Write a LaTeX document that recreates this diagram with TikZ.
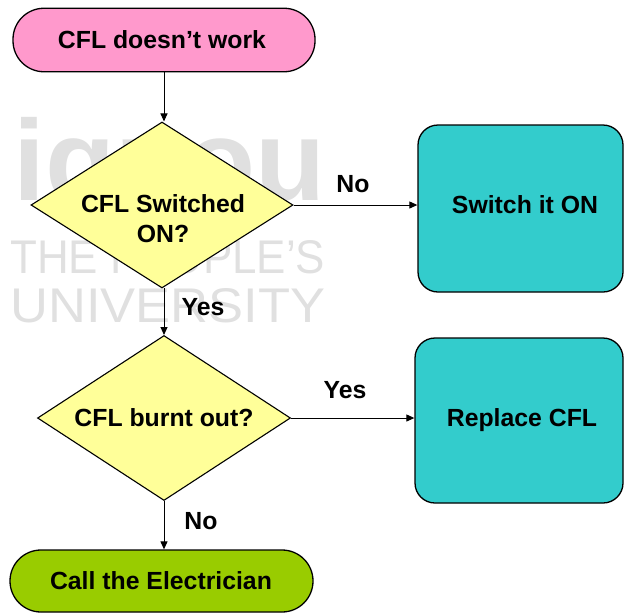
\documentclass[tikz,border=0pt]{standalone}
\usepackage{fontspec}
\setmainfont{Liberation Sans}
\usetikzlibrary{shapes.geometric,arrows.meta}
\definecolor{termpink}{RGB}{255,153,204}
\definecolor{termgreen}{RGB}{153,204,0}
\definecolor{decyellow}{RGB}{255,255,153}
\definecolor{actteal}{RGB}{51,204,204}
\definecolor{wmgray}{RGB}{224,224,224}
\begin{document}
\begin{tikzpicture}[x=1pt,y=-1pt,
  txt/.style={font=\bfseries\fontsize{24.8}{30}\selectfont, inner sep=0pt, anchor=base},
  wm/.style={font=\normalfont, text=wmgray, inner sep=0pt, anchor=base west},
  terminal/.style={rectangle, rounded corners=31pt, draw=black, line width=1.3pt, inner sep=0pt},
  decision/.style={diamond, draw=black, line width=1.1pt, fill=decyellow, inner sep=0pt},
  action/.style={rectangle, rounded corners=20pt, draw=black, line width=1.3pt, fill=actteal, inner sep=0pt},
  conn/.style={draw=black, line width=1pt, -{Triangle[length=8pt,width=7pt]}}
]
\useasboundingbox (0,0) rectangle (624,614);

% background logo lettering
\node[wm] (wmlogo) at (13,200) {\resizebox{312pt}{!}{\bfseries ignou}};
\node[wm] (wmline1) at (10,273) {\resizebox{315pt}{33pt}{THE PEOPLE’S}};
\node[wm] (wmline2) at (10,322) {\resizebox{315pt}{34pt}{UNIVERSITY}};

% shapes
\node[terminal, fill=termpink, minimum width=302pt, minimum height=63.5pt] (start) at (164,40) {};
\node[decision, minimum width=262pt, minimum height=166pt] (q1) at (162,205) {};
\node[action, minimum width=205pt, minimum height=167pt] (act1) at (520.5,208.5) {};
\node[decision, minimum width=253pt, minimum height=165pt] (q2) at (164,418) {};
\node[action, minimum width=208pt, minimum height=165pt] (act2) at (519,420.5) {};
\node[terminal, fill=termgreen, minimum width=303pt, minimum height=62pt] (stop) at (161.5,581) {};

% texts
\node[txt] (tstart) at (162,48) {CFL doesn’t work};
\node[txt] (tq1a) at (163,212) {CFL Switched};
\node[txt] (tq1b) at (163,242) {ON?};
\node[txt] (tact1) at (525,213) {Switch it ON};
\node[txt] (tq2) at (164,426) {CFL burnt out?};
\node[txt] (tact2) at (522,426) {Replace CFL};
\node[txt] (tstop) at (161,589) {Call the Electrician};

% connectors
\draw[conn] (start.south) -- (start.south |- q1.north);
\draw[conn] (q1.east) -- (q1.east -| act1.west);
\draw[conn] (164,288) -- (164,335);
\draw[conn] (q2.east) -- (q2.east -| act2.west);
\draw[conn] (q2.south) -- (q2.south |- stop.north);

% branch labels
\node[txt] (lno1) at (353,192) {No};
\node[txt] (lyes1) at (203,315) {Yes};
\node[txt] (lyes2) at (345,398) {Yes};
\node[txt] (lno2) at (201,529) {No};
\end{tikzpicture}
\end{document}
